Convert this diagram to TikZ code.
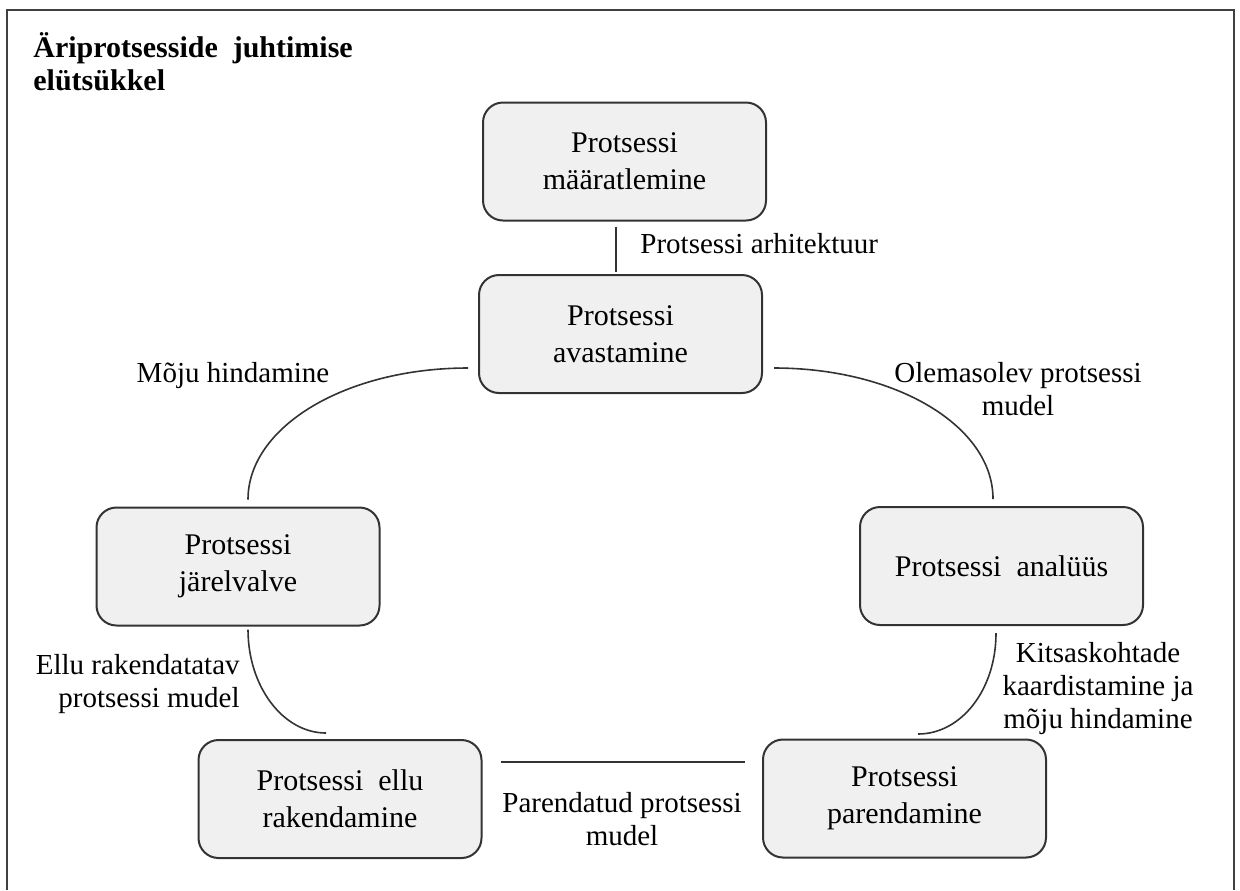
\documentclass[tikz,border=0pt]{standalone}
\usepackage{fontspec}
\setmainfont{Liberation Serif}
\begin{document}
\begin{tikzpicture}[x=0.5pt,y=-0.5pt,
  stage/.style={draw=black!80, line width=1pt, fill=black!6,
    rounded corners=10pt, minimum width=141.5pt, minimum height=59pt,
    inner sep=0pt, align=center, font=\fontsize{15}{18.5}\selectfont},
  link/.style={draw=black!80, line width=0.8pt},
  lbl/.style={inner sep=0pt, align=center, font=\fontsize{14.5}{16.5}\selectfont},
  ]
\useasboundingbox (0,0) rectangle (1240,890);

% open frame (no bottom edge)
\draw[black!75, line width=1.4pt] (7,890) -- (7,10) -- (1234,10) -- (1234,890);

% title (base anchor = baseline of the last line)
\node[anchor=base west, inner sep=0pt, align=left,
      font=\bfseries\fontsize{15}{16.5}\selectfont] (title) at (33,90)
  {Äriprotsesside~ juhtimise\\elütsükkel};

% lifecycle stages
\node[stage] (def)  at (624.5,161.5) {Protsessi\\määratlemine};
\node[stage] (disc) at (620.5,334)   {Protsessi\\avastamine};
\node[stage] (mon)  at (238,566.5)   {Protsessi\\järelvalve};
\node[stage] (ana)  at (1001.5,566)  {Protsessi~ analüüs};
\node[stage] (impl) at (340,799)     {Protsessi~ ellu\\rakendamine};
\node[stage] (impr) at (904.5,798.5) {Protsessi\\parendamine};

% connectors
\draw[link] ([shift={(-8.5,5)}]def.south) -- ([shift={(-4.5,-2)}]disc.north);
\draw[link] ([shift={(-10,34)}]disc.west)
  .. controls +(-122,0) and +(0,-73) .. ([shift={(10,-7)}]mon.north);
\draw[link] ([shift={(11,34)}]disc.east)
  .. controls +(122,0) and +(0,-73) .. ([shift={(-8.5,-7)}]ana.north);
\draw[link] ([shift={(10,3)}]mon.south)
  .. controls +(0,57) and +(-43,0) .. ([shift={(-14,-6)}]impl.north);
\draw[link] ([shift={(-5.5,7)}]ana.south)
  .. controls +(0,57) and +(43,0) .. ([shift={(13.5,-4.5)}]impr.north);
\draw[link] ([shift={(18.5,-37)}]impl.east) -- ([shift={(-17,-36.5)}]impr.west);

% connector labels (base anchor = baseline of the last line)
\node[lbl, anchor=base west] (archlbl) at (640,253) {Protsessi arhitektuur};
\node[lbl, anchor=base] (impactlbl) at (233,382) {Mõju hindamine};
\node[lbl, anchor=base] (currlbl) at (1018,415) {Olemasolev protsessi\\mudel};
\node[lbl, anchor=base] (bottlbl) at (1098,728)
  {Kitsaskohtade\\kaardistamine ja\\mõju hindamine};
\node[lbl, anchor=base east, align=right] (deplbl) at (240,707)
  {Ellu rakendatatav\\protsessi mudel};
\node[lbl, anchor=base] (improvedlbl) at (622,845) {Parendatud protsessi\\mudel};
\end{tikzpicture}
\end{document}
